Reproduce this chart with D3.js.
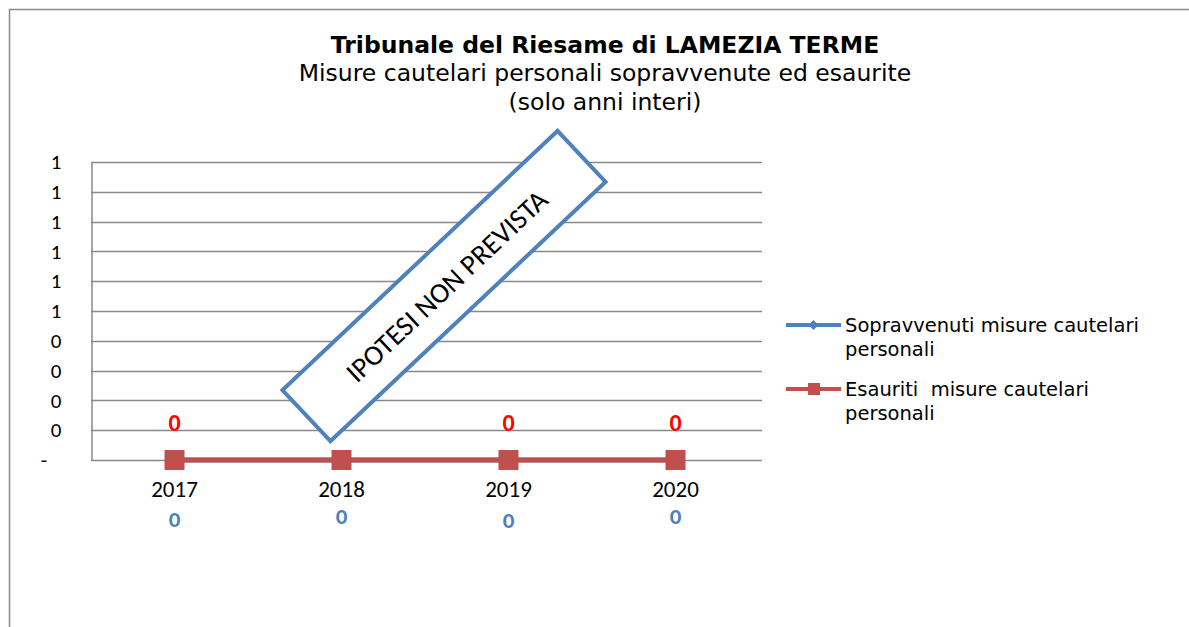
<!DOCTYPE html>
<html>
<head>
<meta charset="utf-8">
<script src="https://cdn.jsdelivr.net/npm/d3@7"></script>
<style>
	body { margin: 0; background: #fff; }
	svg text { font-family: "DejaVu Sans", Verdana, sans-serif; }
</style>
</head>
<body>
<svg id="vis"></svg>
<script>
// Chart data
var years = ["2017", "2018", "2019", "2020"];
var sopravvenuti = [0, 0, 0, 0];
var esauriti = [0, 0, 0, 0];
var yTickValues = [0, 0.1, 0.2, 0.3, 0.4, 0.5, 0.6, 0.7, 0.8, 0.9, 1];
var yTickLabels = ["-   ", "0", "0", "0", "0", "1", "1", "1", "1", "1", "1"];
var seriesNames = ["Sopravvenuti misure cautelari personali", "Esauriti  misure cautelari personali"];
var titleText = "Tribunale del Riesame di LAMEZIA TERME";
var subtitleLines = ["Misure cautelari personali sopravvenute ed esaurite", "(solo anni interi)"];
var stampText = "IPOTESI NON PREVISTA";

var W = 1189, H = 627;
var plot = {left: 91, right: 759, top: 162, bottom: 460};
var blue = "#4F81BD", red = "#C0504D", grid = "#898989";
var calibri = "Carlito, 'Liberation Sans', Arial, sans-serif";

var svg = d3.select("svg#vis")
	.attr("width", W)
	.attr("height", H);

svg.append("rect")
	.attr("width", W)
	.attr("height", H)
	.attr("fill", "#ffffff");

// Outer frame (only left and top edges visible)
svg.append("path")
	.attr("d", "M9.5," + H + "V9.5H" + W)
	.attr("fill", "none")
	.attr("stroke", grid)
	.attr("stroke-width", 1.5);

// Titles
svg.append("text")
	.text(titleText)
	.attr("x", 605)
	.attr("y", 53)
	.attr("text-anchor", "middle")
	.style("font-weight", "bold")
	.style("font-size", "23.5px");

svg.selectAll("text.sub").data(subtitleLines).enter().append("text")
	.attr("class", "sub")
	.text(function(d) {return d})
	.attr("x", 605)
	.attr("y", function(d, i) {return 81 + i * 29})
	.attr("text-anchor", "middle")
	.style("font-size", "23.5px");

// Scales
var xScale = d3.scaleBand()
	.domain(years)
	.range([plot.left, plot.right]);

var yScale = d3.scaleLinear()
	.domain([0, 1])
	.range([plot.bottom, plot.top]);

function cx(d, i) {return xScale(years[i]) + xScale.bandwidth() / 2}

// Gridlines
svg.append("g")
	.selectAll("line").data(yTickValues).enter().append("line")
	.attr("x1", plot.left)
	.attr("x2", plot.right + 3)
	.attr("y1", function(d) {return Math.round(yScale(d)) + 0.5})
	.attr("y2", function(d) {return Math.round(yScale(d)) + 0.5})
	.attr("stroke", grid)
	.attr("stroke-width", 1.5);

// Y axis
var yAxis = svg.append("g")
	.attr("transform", "translate(" + (plot.left + 0.5) + ",0)")
	.call(d3.axisLeft(yScale)
		.tickValues(yTickValues)
		.tickSize(0)
		.tickPadding(30)
		.tickFormat(function(d, i) {return yTickLabels[i]}));
yAxis.select(".domain").attr("stroke", grid).attr("stroke-width", 1.5);
yAxis.selectAll("text")
	.style("font-family", calibri)
	.style("font-size", "21px")
	.style("white-space", "pre")
	.attr("fill", "#000");

// X axis
var xAxis = svg.append("g")
	.attr("transform", "translate(0," + plot.bottom + ")")
	.call(d3.axisBottom(xScale).tickSize(0).tickPadding(21));
xAxis.select(".domain").remove();
xAxis.selectAll("text")
	.style("font-family", calibri)
	.style("font-size", "23px")
	.attr("fill", "#000");

// Series lines
var line = d3.line()
	.x(cx)
	.y(function(d) {return yScale(d)});

svg.append("path")
	.datum(sopravvenuti)
	.attr("d", line)
	.attr("fill", "none")
	.attr("stroke", blue)
	.attr("stroke-width", 5);

svg.append("path")
	.datum(esauriti)
	.attr("d", line)
	.attr("fill", "none")
	.attr("stroke", red)
	.attr("stroke-width", 5);

svg.selectAll("rect.mk").data(esauriti).enter().append("rect")
	.attr("class", "mk")
	.attr("x", function(d, i) {return cx(d, i) - 10})
	.attr("y", function(d) {return yScale(d) - 10})
	.attr("width", 20)
	.attr("height", 20)
	.attr("fill", red);

// Data labels
svg.selectAll("text.lblR").data(esauriti).enter().append("text")
	.attr("class", "lblR")
	.text(function(d) {return d})
	.attr("x", cx)
	.attr("y", function(d) {return yScale(d) - 29})
	.attr("text-anchor", "middle")
	.style("font-family", calibri)
	.style("font-weight", "bold")
	.style("font-size", "24px")
	.attr("fill", "#FF0000");

var blueLabelDy = [67, 64, 68, 64];
svg.selectAll("text.lblB").data(sopravvenuti).enter().append("text")
	.attr("class", "lblB")
	.text(function(d) {return d})
	.attr("x", cx)
	.attr("y", function(d, i) {return yScale(d) + blueLabelDy[i]})
	.attr("text-anchor", "middle")
	.style("font-family", calibri)
	.style("font-weight", "bold")
	.style("font-size", "23px")
	.attr("fill", blue);

// Rotated stamp box
var stamp = svg.append("g")
	.attr("transform", "translate(444,286) rotate(-43.3)");
stamp.append("rect")
	.attr("x", -189)
	.attr("y", -35)
	.attr("width", 378)
	.attr("height", 70)
	.attr("fill", "#ffffff")
	.attr("stroke", blue)
	.attr("stroke-width", 4);
stamp.append("text")
	.text(stampText)
	.attr("x", 2)
	.attr("y", 2)
	.attr("text-anchor", "middle")
	.attr("dominant-baseline", "central")
	.style("font-family", calibri)
	.style("font-size", "28.5px");

// Legend
var legend = svg.selectAll("g.legend").data(seriesNames).enter().append("g")
	.attr("class", "legend")
	.attr("transform", function(d, i) {return "translate(786," + (325 + i * 64) + ")"});

legend.append("line")
	.attr("x1", 0)
	.attr("x2", 55)
	.attr("stroke", function(d, i) {return i === 0 ? blue : red})
	.attr("stroke-width", 4);

legend.append("path")
	.attr("d", function(d, i) {return i === 0 ? "M27.5,-5L32.5,0L27.5,5L22.5,0Z" : "M22,-6H34V6H22Z"})
	.attr("fill", function(d, i) {return i === 0 ? blue : red});

legend.append("text")
	.attr("x", 59)
	.attr("y", 0)
	.style("font-size", "19.5px")
	.style("white-space", "pre")
	.selectAll("tspan")
	.data(function(d) {
		var words = d.split(" ");
		return [words.slice(0, -1).join(" "), words[words.length - 1]];
	})
	.enter().append("tspan")
	.attr("x", 59)
	.attr("dy", function(d, i) {return i === 0 ? "0.35em" : "24px"})
	.text(function(d) {return d});
</script>
</body>
</html>
